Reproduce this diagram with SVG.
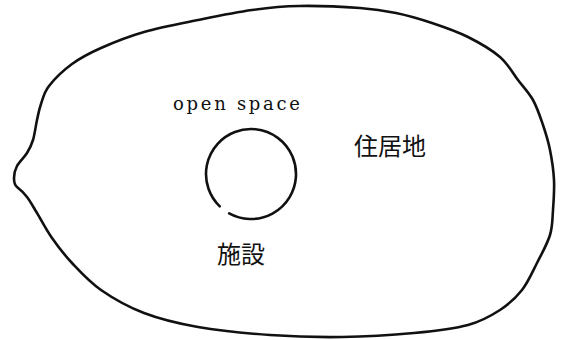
<svg xmlns="http://www.w3.org/2000/svg" width="565" height="340" viewBox="0 0 565 340">
<style>
.ink{fill:none;stroke:#111;stroke-linecap:round;stroke-linejoin:round}
.lat{font-family:"DejaVu Serif","Liberation Serif",serif;font-size:18px;fill:#111}
.cjk{font-family:"Noto Sans CJK JP","Noto Sans CJK SC",sans-serif;font-size:24px;fill:#111}
</style>
<rect width="565" height="340" fill="#fff"/>
<g id="residential-area">
<path class="ink" stroke-width="2.6" d="M14,178 C14,174.5 14.83,170.17 17,166 C19.17,161.83 24.33,157.33 27,153 C29.67,148.67 31.33,145.5 33,140 C34.67,134.5 35.67,126 37,120 C38.33,114 39,109.67 41,104 C43,98.33 43.83,92.67 49,86 C54.17,79.33 63.33,70.33 72,64 C80.67,57.67 89,53.33 101,48 C113,42.67 127.83,36.67 144,32 C160.17,27.33 180,23.67 198,20 C216,16.33 235.17,12.33 252,10 C268.83,7.67 281,6.33 299,6 C317,5.67 343.83,6.83 360,8 C376.17,9.17 384,10.5 396,13 C408,15.5 420,19 432,23 C444,27 456.67,31.33 468,37 C479.33,42.67 491.67,49.83 500,57 C508.33,64.17 512.5,72.83 518,80 C523.5,87.17 528.83,92.5 533,100 C537.17,107.5 540.17,116.67 543,125 C545.83,133.33 548.17,140.83 550,150 C551.83,159.17 553.5,170 554,180 C554.5,190 553.67,200.83 553,210 C552.33,219.17 552.67,226.17 550,235 C547.33,243.83 541.67,253.83 537,263 C532.33,272.17 528.17,282.17 522,290 C515.83,297.83 509,304.17 500,310 C491,315.83 482.33,321.17 468,325 C453.67,328.83 435,331 414,333 C393,335 366,336.67 342,337 C318,337.33 294,336.67 270,335 C246,333.33 219,330.67 198,327 C177,323.33 160.17,319.17 144,313 C127.83,306.83 113,298.33 101,290 C89,281.67 80.17,271.67 72,263 C63.83,254.33 57.83,246.33 52,238 C46.17,229.67 41.17,219.83 37,213 C32.83,206.17 30.33,201.33 27,197 C23.67,192.67 19.17,188.67 17,187 C14.83,185.33 14,181.5 14,178 Z"/>
<text class="cjk" x="354" y="155">住居地</text>
</g>
<g id="open-space">
<text class="lat" x="173" y="110" textLength="127" lengthAdjust="spacing">open space</text>
</g>
<g id="facility">
<path class="ink" stroke-width="2.6" d="M219.74,206.37 A45,45 0 1 1 229.18,213.36"/>
<text class="cjk" x="217" y="263">施設</text>
</g>
</svg>
